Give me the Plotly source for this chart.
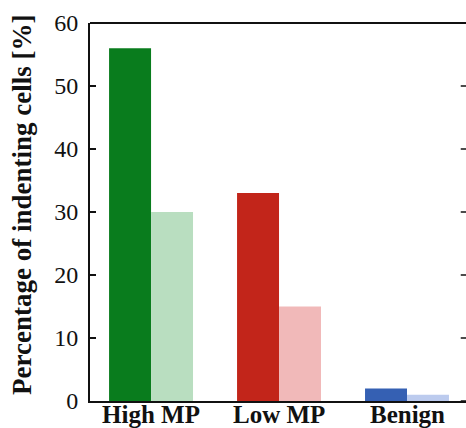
import plotly.graph_objects as go

categories = ["High MP", "Low MP", "Benign"]
series_a = [56, 33, 2]
series_b = [30, 15, 1]
colors_a = ["#097c1d", "#c2251a", "#3560b3"]
colors_b = ["#b9dec0", "#f1b9b9", "#bccbee"]
y_ticks = [0, 10, 20, 30, 40, 50, 60]
y_title = "Percentage of indenting cells [%]"

x_pos = list(range(len(categories)))

fig = go.Figure()
fig.add_trace(go.Bar(x=x_pos, y=series_a, marker=dict(color=colors_a, line=dict(width=0)),
                     showlegend=False))
fig.add_trace(go.Bar(x=x_pos, y=series_b, marker=dict(color=colors_b, line=dict(width=0)),
                     showlegend=False))

font_family = "Liberation Serif, Times New Roman, serif"
ink = "#111111"

for xp, cat in zip(x_pos, categories):
    fig.add_annotation(x=xp, xref="x", y=0, yref="paper", yanchor="top", yshift=2,
                       text=f"<b>{cat}</b>", showarrow=False,
                       font=dict(size=25, family=font_family, color=ink))

fig.add_annotation(x=0, xref="paper", xshift=-68, xanchor="center",
                   y=0.5, yref="paper", yshift=7, yanchor="middle",
                   text=f"<b>{y_title}</b>", textangle=-90, showarrow=False,
                   font=dict(size=27, family=font_family, color=ink))

# top frame line (the right frame edge lies just outside the picture)
fig.add_shape(type="line", xref="paper", yref="paper", x0=0, x1=1.02, y0=1, y1=1,
              line=dict(color=ink, width=2))
# mirrored inward ticks on the right side
for yv in y_ticks:
    fig.add_shape(type="line", xref="paper", yref="y", x0=0.986, x1=1.0, y0=yv, y1=yv,
                  line=dict(color=ink, width=1.5))

fig.update_layout(
    width=466, height=428,
    margin=dict(l=90, r=0, t=23, b=27),
    paper_bgcolor="white", plot_bgcolor="white",
    barmode="group", bargap=0.344, bargroupgap=0,
    font=dict(family=font_family, color=ink),
    xaxis=dict(
        range=[-0.477, 2.461],
        tickmode="array", tickvals=x_pos, showticklabels=False,
        showline=True, linecolor=ink, linewidth=2, mirror=False,
        ticks="", showgrid=False, zeroline=False,
    ),
    yaxis=dict(
        range=[0, 60],
        tickmode="array", tickvals=y_ticks,
        tickfont=dict(size=24, family=font_family, color=ink),
        ticklabelstandoff=5,
        showline=True, linecolor=ink, linewidth=2, mirror=False,
        ticks="inside", ticklen=6, tickwidth=1.5, tickcolor=ink,
        showgrid=False, zeroline=False,
    ),
)

fig.write_html("out.html", config={"displayModeBar": False},
               post_script="document.body.style.margin='0';document.body.style.overflow='hidden';")
